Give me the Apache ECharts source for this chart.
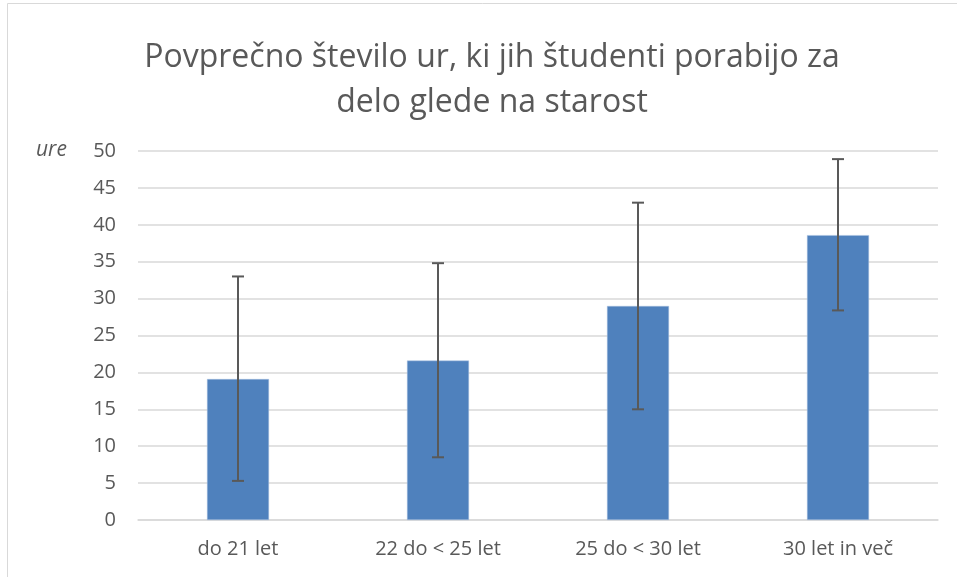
<!doctype html>
<html>
<head>
<meta charset="UTF-8">
<title>Povprečno število ur</title>
<script src="https://cdn.jsdelivr.net/npm/echarts@6/dist/echarts.min.js"></script>
<style>
  html, body { margin: 0; padding: 0; background: #fff; }
  #chart { width: 957px; height: 577px; }
</style>
</head>
<body>
<div id="chart"></div>
<script>
var categories = ['do 21 let', '22 do < 25 let', '25 do < 30 let', '30 let in več'];
var means = [19.1, 21.6, 29.0, 38.6];
var errLow = [5.3, 8.5, 15.0, 28.4];
var errHigh = [33.0, 34.8, 43.0, 48.9];
var yTicks = [0, 50, 5];

var chart = echarts.init(document.getElementById('chart'));

var option = {
  animation: false,
  textStyle: { fontFamily: 'Open Sans' },
  title: {
    text: 'Povprečno število ur, ki jih študenti porabijo za\ndelo glede na starost',
    left: 487,
    textAlign: 'center',
    top: 30,
    textStyle: { color: '#595959', fontSize: 32, fontWeight: 'normal', lineHeight: 45, fontFamily: 'Open Sans' }
  },
  graphic: [{
    type: 'rect',
    shape: { x: 7.5, y: 3.5, width: 1000, height: 1000 },
    style: { fill: null, stroke: '#d9d9d9', lineWidth: 1 },
    silent: true
  }, {
    type: 'text',
    left: 36,
    top: 140,
    style: { text: 'ure', fill: '#595959', font: 'italic 21px "Open Sans"' }
  }],
  grid: { left: 138, right: 19, top: 151, bottom: 57 },
  xAxis: {
    type: 'category',
    data: categories,
    axisTick: { show: false },
    axisLine: { lineStyle: { color: '#d9d9d9', width: 1.5 } },
    axisLabel: { color: '#595959', fontSize: 20, margin: 19 }
  },
  yAxis: {
    type: 'value',
    min: yTicks[0],
    max: yTicks[1],
    interval: yTicks[2],
    axisLine: { show: false },
    axisTick: { show: false },
    axisLabel: { color: '#595959', fontSize: 20, margin: 22 },
    splitLine: { lineStyle: { color: '#d9d9d9', width: 1.5 } }
  },
  series: [{
    type: 'bar',
    data: means,
    barWidth: '31%',
    itemStyle: { color: '#4f81bd', borderColor: '#a9c1e0', borderWidth: 0.5 }
  }, {
    type: 'custom',
    data: categories.map(function (c, i) { return [i, errLow[i], errHigh[i]]; }),
    renderItem: function (params, api) {
      var lo = api.coord([api.value(0), api.value(1)]);
      var hi = api.coord([api.value(0), api.value(2)]);
      var cap = 6;
      var st = { stroke: '#595959', lineWidth: 2 };
      return {
        type: 'group',
        children: [
          { type: 'line', shape: { x1: hi[0], y1: hi[1], x2: lo[0], y2: lo[1] }, style: st },
          { type: 'line', shape: { x1: hi[0] - cap, y1: hi[1], x2: hi[0] + cap, y2: hi[1] }, style: st },
          { type: 'line', shape: { x1: lo[0] - cap, y1: lo[1], x2: lo[0] + cap, y2: lo[1] }, style: st }
        ]
      };
    },
    z: 10
  }]
};

chart.setOption(option);
</script>
</body>
</html>
